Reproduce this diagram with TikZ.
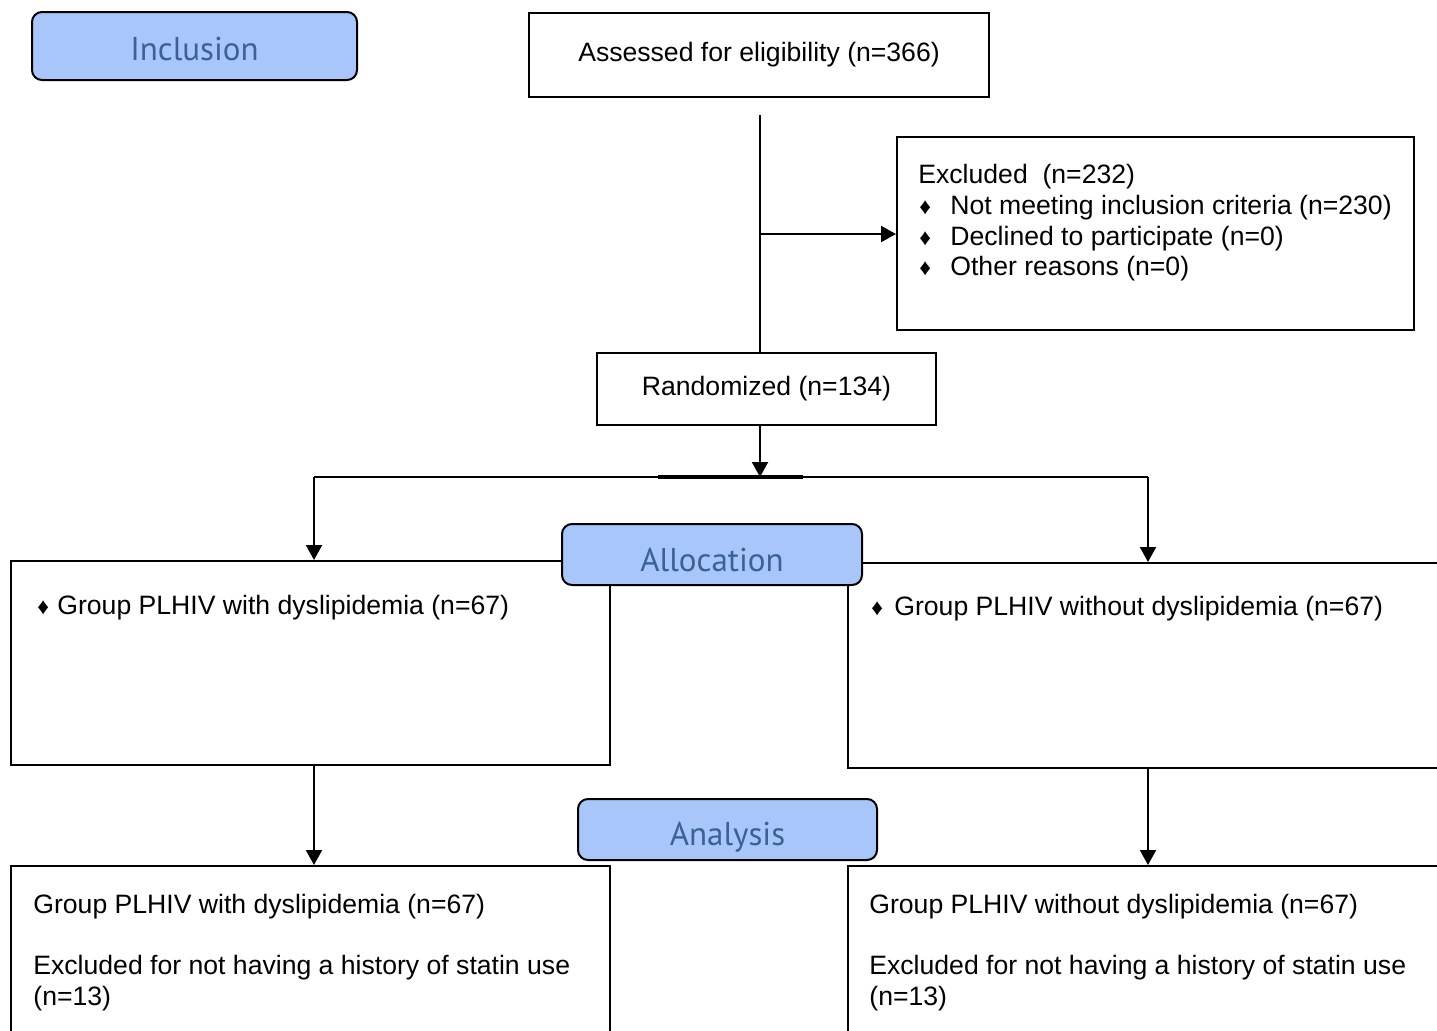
\documentclass[tikz,border=0pt]{standalone}
\usepackage{fontspec}
\setmainfont{Liberation Sans}
\newfontfamily\phasefont{PT Sans}
\usetikzlibrary{arrows.meta}
\definecolor{phasefill}{HTML}{A8C6FA}
\definecolor{phasetext}{HTML}{3B6291}
\newcommand{\bul}[1]{\makebox[#1][l]{\fontsize{11.5}{11.5}\selectfont\raisebox{0.2pt}{♦}}}

\begin{document}
\begin{tikzpicture}[x=0.5pt,y=-0.5pt,
  box/.style={draw,line width=1pt,inner sep=0pt,font=\fontsize{13.3}{16}\selectfont},
  phase/.style={draw,line width=1pt,rounded corners=5pt,fill=phasefill,text=phasetext,
    inner sep=0pt,text depth=0pt,font=\phasefont\fontsize{16.5}{18}\selectfont},
  lbl/.style={anchor=base west,inner sep=0pt,font=\fontsize{13.3}{16}\selectfont},
  flow/.style={line width=1pt,-{Triangle[length=7.5pt,width=8pt]}},
  link/.style={line width=1pt}]
  \useasboundingbox (0,0) rectangle (1437,1030);
  \clip (0,0) rectangle (1437,1030);

  % enrolment
  \node[phase,minimum width=162.5pt,minimum height=34pt,text height=14pt] (incl) at (194.5,46) {Inclusion};
  \node[box,minimum width=230pt,minimum height=42pt] (assess) at (759,55) {Assessed for eligibility (n=366)};
  \node[box,minimum width=258.5pt,minimum height=96.5pt] (excl) at (1155.5,233.5) {};
  \node[lbl] (exclA) at (918,183.5) {Excluded\ \ (n=232)};
  \node[lbl] (exclB) at (919,214.5) {\bul{15.5pt}Not meeting inclusion criteria (n=230)};
  \node[lbl] (exclC) at (919,245.5) {\bul{15.5pt}Declined to participate (n=0)};
  \node[lbl] (exclD) at (919,275.5) {\bul{15.5pt}Other reasons (n=0)};
  \node[box,minimum width=169.5pt,minimum height=36pt] (rand) at (766.5,389) {Randomized (n=134)};

  % allocation
  \node[box,minimum width=299.5pt,minimum height=102pt] (allocL) at (310.5,663) {};
  \node[box,minimum width=306pt,minimum height=102.5pt] (allocR) at (1154,665.5) {};
  \node[lbl] (allocLtxt) at (37,614.5) {\bul{10pt}Group PLHIV with dyslipidemia (n=67)};
  \node[lbl] (allocRtxt) at (871,615.5) {\bul{11.5pt}Group PLHIV without dyslipidemia (n=67)};
  \node[phase,minimum width=150pt,minimum height=30.5pt,text height=16.5pt] (alloc) at (712,554.5) {Allocation};

  % analysis
  \node[box,minimum width=299.5pt,minimum height=97pt] (finalL) at (310.5,963) {};
  \node[box,minimum width=306pt,minimum height=97pt] (finalR) at (1154,963) {};
  \node[lbl] (finalLa) at (33,913.5) {Group PLHIV with dyslipidemia (n=67)};
  \node[lbl] (finalLb) at (33,974.5) {Excluded for not having a history of statin use};
  \node[lbl] (finalLc) at (33,1005.5) {(n=13)};
  \node[lbl] (finalRa) at (869,913.5) {Group PLHIV without dyslipidemia (n=67)};
  \node[lbl] (finalRb) at (869,974.5) {Excluded for not having a history of statin use};
  \node[lbl] (finalRc) at (869,1005.5) {(n=13)};
  \node[phase,minimum width=149.5pt,minimum height=30.5pt,text height=15.5pt] (anal) at (727.5,829.5) {Analysis};

  % connectors
  \coordinate (trunk) at (760,115);
  \coordinate (split) at (760,234);
  \coordinate (hub) at (760,477);
  \coordinate (forkL) at (314,477);
  \coordinate (forkR) at (1148,477);
  \draw[link] (trunk) -- (trunk |- rand.north);
  \draw[flow] (split) -- (split -| excl.west);
  \draw[flow] (hub |- rand.south) -- (hub);
  \draw[link] (forkL) -- (forkR);
  \draw[line width=1.6pt] (658,477) -- (803,477);
  \draw[flow] (forkL) -- (forkL |- allocL.north);
  \draw[flow] (forkR) -- (forkR |- allocR.north);
  \draw[flow] (forkL |- allocL.south) -- (forkL |- finalL.north);
  \draw[flow] (forkR |- allocR.south) -- (forkR |- finalR.north);
\end{tikzpicture}
\end{document}
